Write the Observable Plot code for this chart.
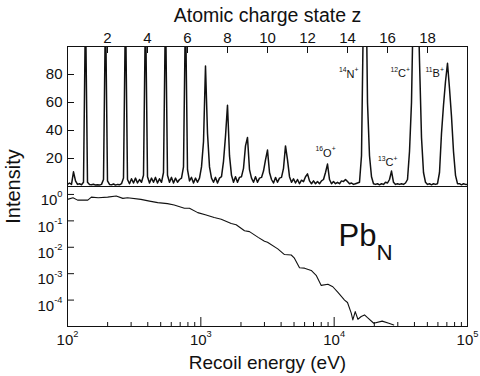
<!DOCTYPE html>
<html><head><meta charset="utf-8">
<script src="https://cdn.jsdelivr.net/npm/d3@7"></script>
<script src="https://cdn.jsdelivr.net/npm/@observablehq/plot@0.6"></script>
<style>
html,body{margin:0;padding:0;background:#fff;}
#chart{position:relative;width:480px;height:376px;}
#chart svg{display:block;overflow:visible;background:transparent;}
#chart svg.toppanel{position:relative;z-index:2;}
</style></head><body><div id="chart"></div>
<script>
// ---------- data ----------
const zAxisTitle = "Atomic charge state z";
const yAxisTitle = "Intensity";
const xAxisTitle = "Recoil energy (eV)";
const zTickValues = [2, 4, 6, 8, 10, 12, 14, 16, 18];
const intensityTicks = [20, 40, 60, 80];

// spectrum sampled every 0.1 in z, from z = 0 to z = 20
const specStepZ = 0.1;
const specIntensity = [
  1.5, 2.5, 1.5, 10.5, 4, 1.5, 2, 1.2, 3, 130,
  3, 1.5, 1.2, 1.6, 1.0, 1.3, 1.0, 1.5, 5, 130,
  4, 1.5, 1.2, 1.8, 1.0, 1.5, 1.2, 2, 6, 130,
  5, 2, 5.5, 2.5, 6, 2.5, 5, 3, 8, 130,
  7, 2.5, 6, 3, 6.5, 2.5, 5.5, 3, 10, 130,
  8, 3, 6.5, 2.5, 6, 3, 5, 6, 14, 130,
  12, 4, 6.5, 2.5, 6, 3, 6, 14, 32, 86,
  38, 14, 6, 3, 6.5, 2.5, 6, 7, 18, 36,
  58, 22, 8, 3, 7, 3, 6.5, 7, 13, 29,
  35, 12, 6, 3, 7, 3, 6, 6.5, 11, 19,
  26, 10, 5, 2.5, 6.5, 3, 6, 6.5, 13, 29,
  19, 7, 3, 5.5, 2.5, 5, 2, 4.5, 3.5, 7,
  9, 4, 2, 4, 2, 3.5, 2, 4, 5, 10,
  16, 5, 2, 3.5, 2, 3, 2, 4, 3.5, 5,
  3.5, 2, 2.5, 1.5, 2, 2.5, 3, 22, 130, 180,
  60, 22, 7, 2, 1.5, 2, 1.2, 2, 1.5, 3,
  2.5, 5, 11, 3, 1.5, 2, 1.5, 2, 1.5, 2.5,
  5, 25, 60, 140, 220, 150, 90, 35, 10, 3,
  1.5, 2, 1.2, 2, 1.5, 2, 10, 38, 58, 75,
  88, 70, 50, 25, 8, 2, 2, 1.2, 2, 1.5,
  1.5
];

// ion peak labels
const ionLabels = ["^{14}N^{+}", "^{12}C^{+}", "^{11}B^{+}", "^{16}O^{+}", "^{13}C^{+}"];
const ionZ = [13.57, 16.15, 17.9, 12.4, 15.52];
const ionI = [77.6, 77.9, 77.9, 21.4, 14.3];

// recoil energy distribution
const recoilEnergy = [100,110,119,142,151,170,200,232,260,282,
  355,412,475,562,631,753,822,948,1096,1259,
  1422,1690,1841,2126,2317,2692,3002,3162,3776,4241,
  4764,5012,5495,5991,6730,7328,7998,8974,9772,10715,
  11967,12589,13428,13804,14388,15066,15959,16887,17701,19815,
  22909,25704,27990];
const recoilIntensity = [0.65,0.75,0.61,0.61,0.79,0.75,0.79,0.87,0.71,0.75,
  0.65,0.56,0.49,0.45,0.40,0.30,0.30,0.205,0.168,0.133,
  0.115,0.079,0.071,0.042,0.039,0.0237,0.0168,0.0155,0.0087,0.0053,
  0.0051,0.0040,0.00168,0.00162,0.00133,0.00087,0.00036,0.00040,0.00032,0.00019,
  0.0001,0.000081,0.000032,0.0000178,0.0000365,0.0000188,0.000024,0.0000275,0.000022,0.0000133,
  0.000016,0.0000133,0.0000115];
const energyMajorTicks = [1e2, 1e3, 1e4, 1e5];
const energyMinorTicks = [200,300,400,500,600,700,800,900,
  2000,3000,4000,5000,6000,7000,8000,9000,
  20000,30000,40000,50000,60000,70000,80000,90000];
const logIntensityTicks = [1, 0.1, 0.01, 0.001, 0.0001];
const sampleLabel = "Pb_{N}";
const sampleLabelE = 10780;
const sampleLabelI = 0.011;

// ---------- chart ----------
const FONT = "'Liberation Sans', Arial, Helvetica, sans-serif";
const INK = "#111";
const baseStyle = {fontFamily: FONT, fontSize: "15px", background: "transparent", overflow: "visible", color: INK};
const pow10 = d => `10^{${Math.round(Math.log10(d))}}`;

const spectrum = specIntensity.map((v, i) => ({z: i * specStepZ, v}));
const ions = ionLabels.map((label, i) => ({label, z: ionZ[i], i: ionI[i]}));
const recoil = recoilEnergy.map((e, i) => ({e, v: recoilIntensity[i]}));

const topPanel = Plot.plot({
  width: 480, height: 186,
  marginTop: 46, marginBottom: 0, marginLeft: 67, marginRight: 13,
  style: baseStyle,
  x: {domain: [0, 20]},
  y: {domain: [0, 100]},
  marks: [
    Plot.line(spectrum, {x: "z", y: "v", stroke: INK, strokeWidth: 1.5, clip: true}),
    Plot.ruleY(intensityTicks, {stroke: INK, insetRight: 393}),
    Plot.ruleX(zTickValues, {stroke: INK, insetBottom: 133}),
    Plot.frame({stroke: INK}),
    Plot.axisX({anchor: "top", ticks: zTickValues, tickSize: 0, tickPadding: 4, label: null}),
    Plot.axisY({anchor: "left", ticks: intensityTicks, tickSize: 0, tickPadding: 5, label: null}),
    Plot.text([zAxisTitle], {text: d => d, frameAnchor: "top", dy: -25, lineAnchor: "bottom", fontSize: 19.5}),
    Plot.text([yAxisTitle], {text: d => d, frameAnchor: "bottom-left", dx: -48, rotate: -90, textAnchor: "middle", fontSize: 20}),
    Plot.text(ions, {x: "z", y: "i", text: "label", textAnchor: "start", lineAnchor: "bottom", fontSize: 11})
  ]
});
topPanel.classList.add("toppanel");

const bottomPanel = Plot.plot({
  width: 480, height: 190,
  marginTop: 0, marginBottom: 50, marginLeft: 67, marginRight: 13,
  style: baseStyle,
  x: {type: "log", domain: [1e2, 1e5]},
  y: {type: "log", domain: [1e-5, 2]},
  marks: [
    Plot.line(recoil, {x: "e", y: "v", stroke: INK, strokeWidth: 1.1, clip: true}),
    Plot.ruleY(logIntensityTicks, {stroke: INK, insetRight: 393}),
    Plot.ruleX(energyMajorTicks, {stroke: INK, insetTop: 131}),
    Plot.ruleX(energyMinorTicks, {stroke: INK, insetTop: 136}),
    Plot.frame({stroke: INK}),
    Plot.axisX({anchor: "bottom", ticks: energyMajorTicks, tickFormat: pow10, tickSize: 0, tickPadding: 8, label: null}),
    Plot.axisY({anchor: "left", ticks: logIntensityTicks, tickFormat: pow10, tickSize: 0, tickPadding: 5, dy: 6, label: null}),
    Plot.text([xAxisTitle], {text: d => d, frameAnchor: "bottom", dy: 42, lineAnchor: "bottom", fontSize: 19}),
    Plot.text([sampleLabel], {text: d => d, x: () => sampleLabelE, y: () => sampleLabelI, textAnchor: "start", lineAnchor: "bottom", fontSize: 31})
  ]
});

const host = document.getElementById("chart");
host.appendChild(topPanel);
host.appendChild(bottomPanel);

// turn ^{..} and _{..} markup into real superscript / subscript tspans
function richify(svg) {
  const NS = "http://www.w3.org/2000/svg";
  svg.querySelectorAll("text").forEach(t => {
    const s = t.textContent;
    if (!/[\^_]\{/.test(s)) return;
    const base = parseFloat(getComputedStyle(t).fontSize) || 15;
    const parts = s.split(/([\^_]\{[^}]*\})/).filter(p => p.length);
    while (t.firstChild) t.removeChild(t.firstChild);
    let shift = 0;
    for (const p of parts) {
      const ts = document.createElementNS(NS, "tspan");
      let target = 0, size = base, txt = p;
      if (p.startsWith("^{")) { target = -0.52 * base; size = 0.62 * base; txt = p.slice(2, -1); }
      else if (p.startsWith("_{")) { target = 0.45 * base; size = 0.72 * base; txt = p.slice(2, -1); }
      ts.setAttribute("dy", (target - shift).toFixed(2));
      ts.setAttribute("font-size", size.toFixed(2));
      ts.textContent = txt;
      t.appendChild(ts);
      shift = target;
    }
  });
}
richify(topPanel);
richify(bottomPanel);
</script></body></html>
